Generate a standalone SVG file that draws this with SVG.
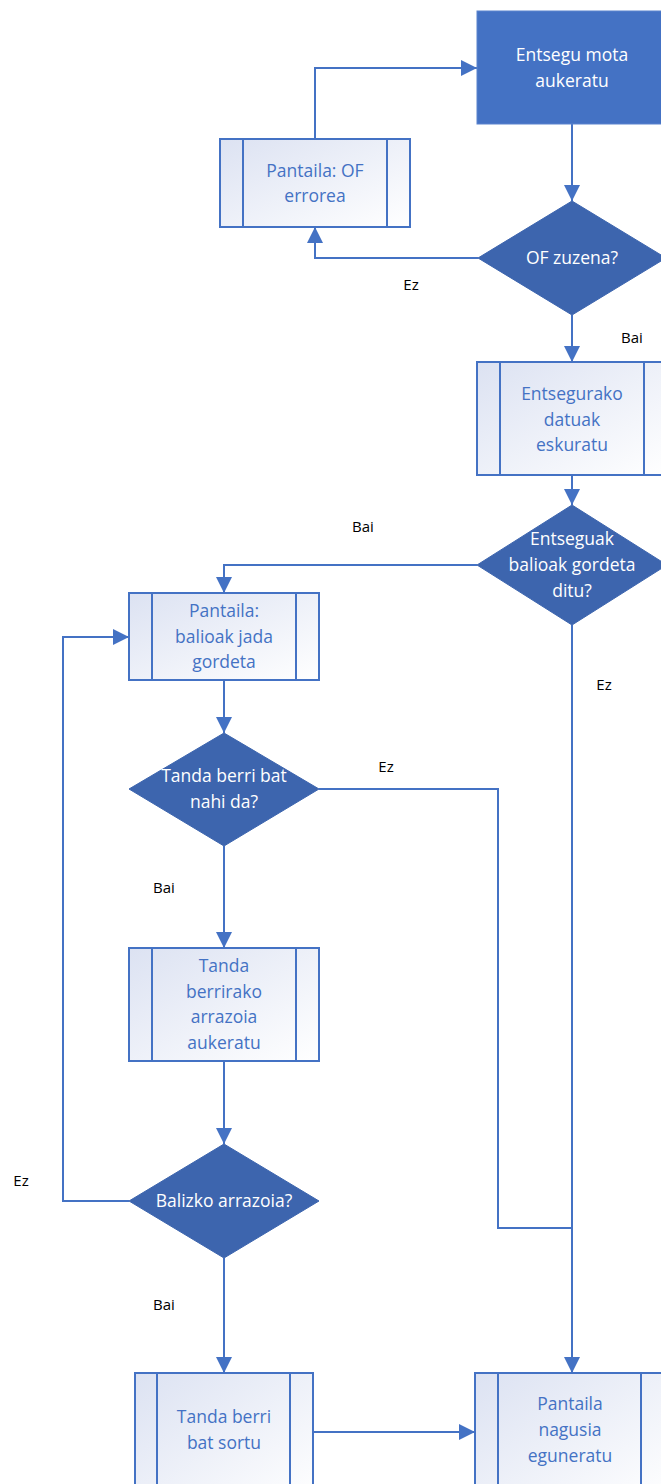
<svg xmlns="http://www.w3.org/2000/svg" width="661" height="1484" viewBox="0 0 661 1484">
  <defs>
    <linearGradient id="subFill" x1="0" y1="0" x2="1" y2="1">
      <stop offset="0" stop-color="#DCE2F2"/>
      <stop offset="1" stop-color="#FFFFFF"/>
    </linearGradient>
    <marker id="arr" viewBox="0 0 16 16" refX="16" refY="8" markerWidth="16" markerHeight="16" markerUnits="userSpaceOnUse" orient="auto">
      <path d="M0,0 L16,8 L0,16 z" fill="#4472C4"/>
    </marker>
  </defs>
  <style>
    .sub rect { fill: url(#subFill); stroke: #4472C4; stroke-width: 2; }
    .sub line { stroke: #4472C4; stroke-width: 2; }
    .sub text { fill: #4472C4; }
    .dec polygon { fill: #3D65AE; stroke: #3D65AE; stroke-width: 1; }
    .proc rect { fill: #4472C4; stroke: #5B83CE; stroke-width: 1; }
    .node text { font-family: "Open Sans", "Liberation Sans", sans-serif; font-size: 17.5px; text-anchor: middle; }
    .dec text, .proc text { fill: #FFFFFF; }
    .edges path { fill: none; stroke: #4472C4; stroke-width: 2; }
    .lbl { font-family: "Open Sans", "Liberation Sans", sans-serif; font-size: 15px; fill: #000000; text-anchor: middle; }
  </style>

  <!-- connectors -->
  <g id="edges" class="edges">
    <path d="M315,139 V68 H477" marker-end="url(#arr)"/>
    <path d="M572,124 V201" marker-end="url(#arr)"/>
    <path d="M478,258 H315 V227" marker-end="url(#arr)"/>
    <path d="M572,315 V362" marker-end="url(#arr)"/>
    <path d="M572,475 V505" marker-end="url(#arr)"/>
    <path d="M477,565 H224 V593" marker-end="url(#arr)"/>
    <path d="M572,625 V1373" marker-end="url(#arr)"/>
    <path d="M224,680 V733" marker-end="url(#arr)"/>
    <path d="M319,789 H498 V1228 H572"/>
    <path d="M224,846 V948" marker-end="url(#arr)"/>
    <path d="M224,1061 V1144" marker-end="url(#arr)"/>
    <path d="M129,1201 H63 V637 H129" marker-end="url(#arr)"/>
    <path d="M224,1258 V1373" marker-end="url(#arr)"/>
    <path d="M313,1432 H475" marker-end="url(#arr)"/>
  </g>

  <!-- edge labels -->
  <g id="labels">
    <text class="lbl" x="411" y="290">Ez</text>
    <text class="lbl" x="632" y="343">Bai</text>
    <text class="lbl" x="363" y="532">Bai</text>
    <text class="lbl" x="604" y="690">Ez</text>
    <text class="lbl" x="386" y="772">Ez</text>
    <text class="lbl" x="164" y="893">Bai</text>
    <text class="lbl" x="21" y="1186">Ez</text>
    <text class="lbl" x="164" y="1310">Bai</text>
  </g>

  <g id="n-entsegu-mota" class="node proc">
    <rect x="477" y="11" width="200" height="113"/>
    <text x="572" y="61">Entsegu mota</text>
    <text x="572" y="87">aukeratu</text>
  </g>

  <g id="n-of-errorea" class="node sub">
    <rect x="220" y="139" width="190" height="88"/>
    <line x1="243" y1="139" x2="243" y2="227"/>
    <line x1="387" y1="139" x2="387" y2="227"/>
    <text x="315" y="177">Pantaila: OF</text>
    <text x="315" y="202">errorea</text>
  </g>

  <g id="n-of-zuzena" class="node dec">
    <polygon points="572,201 666,258 572,315 478,258"/>
    <text x="572" y="264">OF zuzena?</text>
  </g>

  <g id="n-datuak" class="node sub">
    <rect x="477" y="362" width="190" height="113"/>
    <line x1="500" y1="362" x2="500" y2="475"/>
    <line x1="644" y1="362" x2="644" y2="475"/>
    <text x="572" y="400">Entsegurako</text>
    <text x="572" y="426">datuak</text>
    <text x="572" y="451">eskuratu</text>
  </g>

  <g id="n-gordeta" class="node dec">
    <polygon points="572,505 667,565 572,625 477,565"/>
    <text x="572" y="545">Entseguak</text>
    <text x="572" y="571">balioak gordeta</text>
    <text x="572" y="597">ditu?</text>
  </g>

  <g id="n-jada-gordeta" class="node sub">
    <rect x="129" y="593" width="190" height="87"/>
    <line x1="152" y1="593" x2="152" y2="680"/>
    <line x1="296" y1="593" x2="296" y2="680"/>
    <text x="224" y="617">Pantaila:</text>
    <text x="224" y="643">balioak jada</text>
    <text x="224" y="668">gordeta</text>
  </g>

  <g id="n-tanda-berri" class="node dec">
    <polygon points="224,733 319,789 224,846 129,789"/>
    <text x="224" y="782">Tanda berri bat</text>
    <text x="224" y="808">nahi da?</text>
  </g>

  <g id="n-arrazoia" class="node sub">
    <rect x="129" y="948" width="190" height="113"/>
    <line x1="152" y1="948" x2="152" y2="1061"/>
    <line x1="296" y1="948" x2="296" y2="1061"/>
    <text x="224" y="972">Tanda</text>
    <text x="224" y="998">berrirako</text>
    <text x="224" y="1023">arrazoia</text>
    <text x="224" y="1049">aukeratu</text>
  </g>

  <g id="n-balizko" class="node dec">
    <polygon points="224,1144 319,1201 224,1258 129,1201"/>
    <text x="224" y="1207">Balizko arrazoia?</text>
  </g>

  <g id="n-sortu" class="node sub">
    <rect x="135" y="1373" width="178" height="130"/>
    <line x1="157" y1="1373" x2="157" y2="1503"/>
    <line x1="290" y1="1373" x2="290" y2="1503"/>
    <text x="224" y="1423">Tanda berri</text>
    <text x="224" y="1449">bat sortu</text>
  </g>

  <g id="n-nagusia" class="node sub">
    <rect x="475" y="1373" width="190" height="130"/>
    <line x1="498" y1="1373" x2="498" y2="1503"/>
    <line x1="641" y1="1373" x2="641" y2="1503"/>
    <text x="570" y="1410">Pantaila</text>
    <text x="570" y="1436">nagusia</text>
    <text x="570" y="1462">eguneratu</text>
  </g>
</svg>
